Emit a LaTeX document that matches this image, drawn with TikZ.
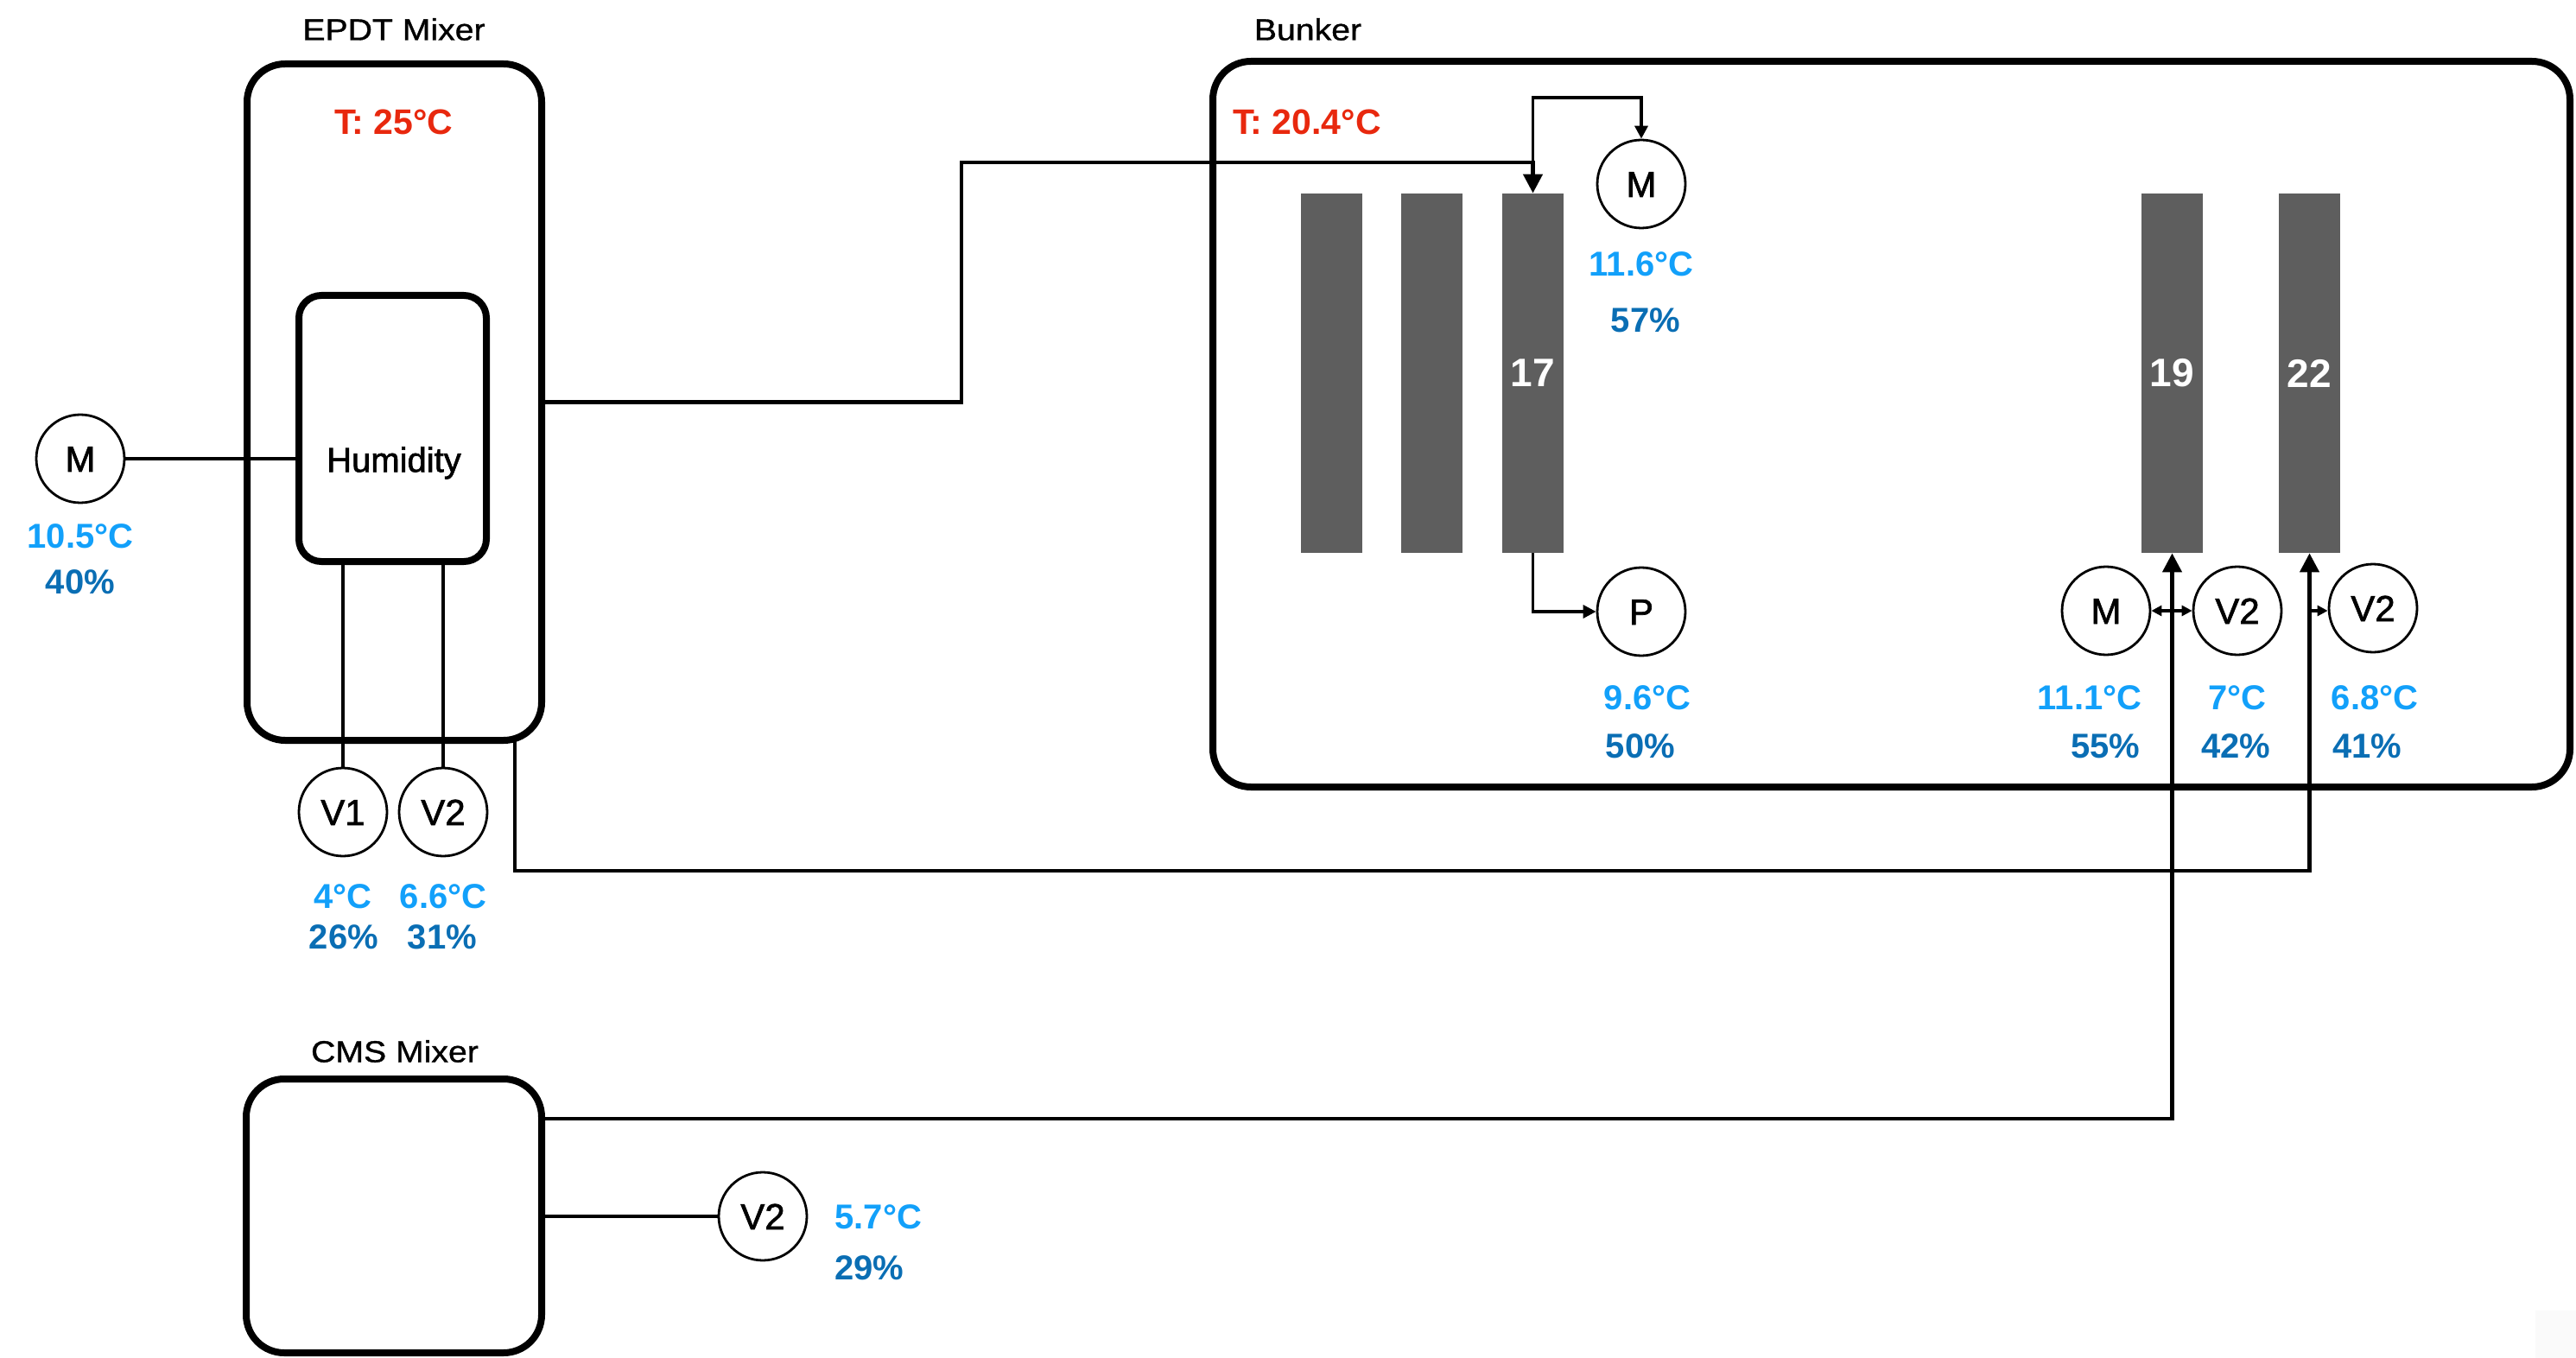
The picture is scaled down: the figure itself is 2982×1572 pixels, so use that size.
\documentclass[tikz,border=0pt]{standalone}
\usepackage{fontspec}
\setmainfont{Liberation Sans}
\newfontfamily\lblfont[FakeStretch=1.12,FakeBold=1.0]{Liberation Sans}
\newfontfamily\medfont[FakeBold=1.6]{Liberation Sans}
\usetikzlibrary{arrows.meta}
\definecolor{tempblue}{RGB}{18,160,250}
\definecolor{pctblue}{RGB}{10,110,180}
\definecolor{tred}{RGB}{232,40,14}
\definecolor{colgray}{RGB}{94,94,94}
\begin{document}
\begin{tikzpicture}[x=0.5pt,y=-0.5pt,
  box/.style={draw,line width=4pt,rounded corners=22pt,inner sep=0pt},
  hbox/.style={draw,line width=4pt,rounded corners=13pt,inner sep=0pt},
  circ/.style={draw,circle,line width=1.4pt,fill=white,minimum size=51pt,inner sep=0pt,
    font=\medfont\fontsize{21}{25}\selectfont,text height=15pt,text depth=0pt},
  colbar/.style={fill=colgray,minimum width=35.5pt,minimum height=208pt,inner sep=0pt,
    text=white,font=\bfseries\fontsize{23}{27}\selectfont},
  ttl/.style={font=\lblfont\fontsize{17.5}{21}\selectfont,text height=12.5pt,text depth=0pt,inner sep=0pt},
  humtxt/.style={font=\medfont\fontsize{20}{24}\selectfont,text height=14.3pt,text depth=0pt,inner sep=0pt},
  tval/.style={text=tempblue,font=\bfseries\fontsize{20}{24}\selectfont,text height=14.3pt,text depth=0pt,inner sep=0pt},
  pval/.style={text=pctblue,font=\bfseries\fontsize{20}{24}\selectfont,text height=14.3pt,text depth=0pt,inner sep=0pt},
  rval/.style={text=tred,font=\bfseries\fontsize{20.5}{24}\selectfont,text height=14.7pt,text depth=0pt,inner sep=0pt},
  mainline/.style={line width=2.2pt},
  branchline/.style={line width=1.8pt},
  thinline/.style={line width=1.6pt},
  bigtip/.tip={Triangle[length=11pt,width=11pt]},
  midtip/.tip={Triangle[length=7.5pt,width=7.5pt]},
  smalltip/.tip={Triangle[length=6pt,width=6pt]}
]
\useasboundingbox (0,0) rectangle (2982,1572);
\fill[black!2] (2935,1517) rectangle (2982,1572);

% containers
\node[box,minimum width=170.5pt,minimum height=391.5pt] (epdt) at (456.5,465.5) {};
\node[hbox,minimum width=108.5pt,minimum height=154pt] (humbox) at (454.5,496) {};
\node[box,minimum width=785.5pt,minimum height=420pt] (bunker) at (2189.5,491) {};
\node[box,minimum width=171pt,minimum height=158.5pt] (cms) at (456,1407.5) {};

% titles
\node[ttl] (tepdt) at (456,34) {EPDT Mixer};
\node[ttl] (tbunker) at (1514,34) {Bunker};
\node[ttl] (tcms) at (457,1217) {CMS Mixer};
\node[rval] (r1) at (456,141) {T: 25°C};
\node[rval] (r2) at (1513,141) {T: 20.4°C};
\node[humtxt] (humlbl) at (456,532) {Humidity};

% columns
\node[colbar] (c1) at (1541.5,432) {};
\node[colbar] (c2) at (1657.5,432) {};
\node[colbar] (c17) at (1774.5,432) {17};
\node[colbar] (c19) at (2514.5,432) {19};
\node[colbar] (c22) at (2673.5,432) {22};

% sensors
\node[circ] (lm) at (93,531) {M};
\node[circ] (v1) at (397,940) {V1};
\node[circ] (v2) at (513,940) {V2};
\node[circ] (tm) at (1900,213) {M};
\node[circ] (p) at (1900,708) {P};
\node[circ] (bm) at (2438,707) {M};
\node[circ] (bv2a) at (2590,707) {V2};
\node[circ] (bv2b) at (2747,704) {V2};
\node[circ] (cv2) at (883,1408) {V2};

% values
\node[tval] (lmT) at (93,620) {10.5°C};
\node[pval] (lmH) at (93,673) {40\%};
\node[tval] (v1T) at (397,1037) {4°C};
\node[pval] (v1H) at (398,1084) {26\%};
\node[tval] (v2T) at (513,1037) {6.6°C};
\node[pval] (v2H) at (512,1084) {31\%};
\node[tval] (tmT) at (1900,305) {11.6°C};
\node[pval] (tmH) at (1905,370) {57\%};
\node[tval] (pT) at (1907,807) {9.6°C};
\node[pval] (pH) at (1899,863) {50\%};
\node[tval] (bmT) at (2419,807) {11.1°C};
\node[pval] (bmH) at (2437,863) {55\%};
\node[tval] (bv2aT) at (2590,807) {7°C};
\node[pval] (bv2aH) at (2588,863) {42\%};
\node[tval] (bv2bT) at (2749,807) {6.8°C};
\node[pval] (bv2bH) at (2740,863) {41\%};
\node[tval,anchor=west] (cv2T) at (966,1408) {5.7°C};
\node[pval,anchor=west] (cv2H) at (966,1467) {29\%};

% connector bends
\coordinate (j1) at (1113,188);
\coordinate (j2) at (1774.5,188);
\coordinate (j3) at (1900,113);
\coordinate (a0) at (596,857);
\coordinate (a1) at (2673.5,1008);
\coordinate (b1) at (2514.5,1295);

% connectors
\draw[mainline,-bigtip] (epdt.east) -| (j1) -- (j2) -- (c17.north);
\draw[branchline,-midtip] (j2) |- (j3) -- (tm.north);
\draw[thinline,-midtip] (c17.south) |- (p.west);
\draw[mainline,-bigtip] (a0) |- (a1) -- (c22.south);
\draw[mainline,-bigtip] (cms.east |- b1) -- (b1) -- (c19.south);
\draw[thinline] (cms.east |- cv2) -- (cv2);
\draw[thinline] (lm) -- (lm -| humbox.west);
\draw[thinline] (v1 |- humbox.south) -- (v1);
\draw[thinline] (v2 |- humbox.south) -- (v2);
\draw[thinline,smalltip-smalltip] (bm) -- (bv2a);
\draw[thinline,-smalltip] (c22.south |- bm) -- (bv2b.west |- bm);
\end{tikzpicture}
\end{document}
